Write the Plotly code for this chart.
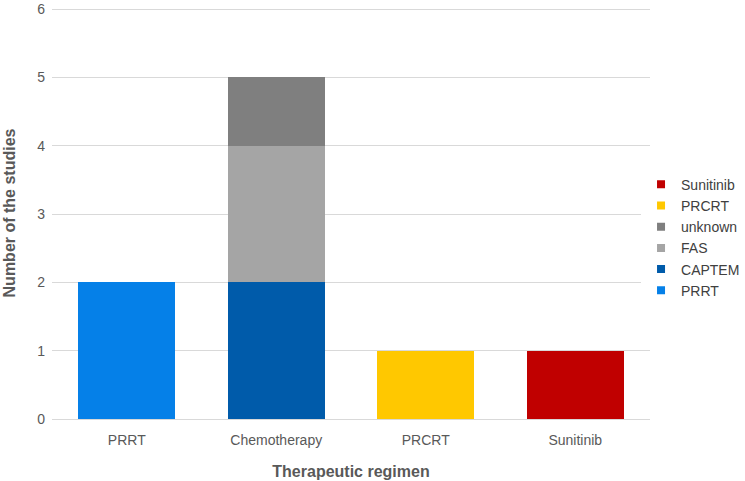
import plotly.graph_objects as go

categories = ["PRRT", "Chemotherapy", "PRCRT", "Sunitinib"]
series_names = ["PRRT", "CAPTEM", "FAS", "unknown", "PRCRT", "Sunitinib"]
prrt = [2, 0, 0, 0]
captem = [0, 2, 0, 0]
fas = [0, 2, 0, 0]
unknown = [0, 1, 0, 0]
prcrt = [0, 0, 1, 0]
sunitinib = [0, 0, 0, 1]
values = [prrt, captem, fas, unknown, prcrt, sunitinib]
colors = ["#0580E8", "#005BAA", "#A5A5A5", "#7F7F7F", "#FFC800", "#C00000"]
y_ticks = [0, 1, 2, 3, 4, 5, 6]

fig = go.Figure()
for name, vals, col in zip(series_names, values, colors):
    fig.add_trace(go.Bar(x=categories, y=vals, name=name, marker_color=col,
                         marker_line_width=0, showlegend=False, legendgroup=name))
# legend entries with small square markers
for name, col in zip(series_names, colors):
    fig.add_trace(go.Scatter(x=[None], y=[None], mode="markers", name=name,
                             marker=dict(symbol="square", size=8, color=col),
                             legendgroup=name, showlegend=True))

fig.update_layout(
    barmode="stack",
    bargap=0.35,
    width=745, height=481,
    paper_bgcolor="white", plot_bgcolor="white",
    margin=dict(l=52, r=95, t=7, b=62, autoexpand=False),
    font=dict(family="Liberation Sans, Arial, sans-serif", size=14, color="#595959"),
    legend=dict(traceorder="reversed", x=0.985, xanchor="left", y=0.44, yanchor="middle",
                font=dict(size=14, color="#404040"), itemwidth=30, tracegroupgap=5),
    xaxis=dict(title=dict(text="<b>Therapeutic regimen</b>", font=dict(size=16, color="#595959"), standoff=19),
               showline=True, linecolor="#D9D9D9", ticks="", tickfont=dict(size=14),
               ticklabelstandoff=8, automargin=False),
    yaxis=dict(title=dict(text="<b>Number of the studies</b>", font=dict(size=16, color="#595959"), standoff=17),
               range=[0, 6.03], tickvals=y_ticks, gridcolor="#D9D9D9",
               zeroline=False, ticks="", tickfont=dict(size=14), ticklabelstandoff=6,
               automargin=False),
)
fig.write_html("out.html", post_script="document.body.style.margin='0';",
               config={"displayModeBar": False})
